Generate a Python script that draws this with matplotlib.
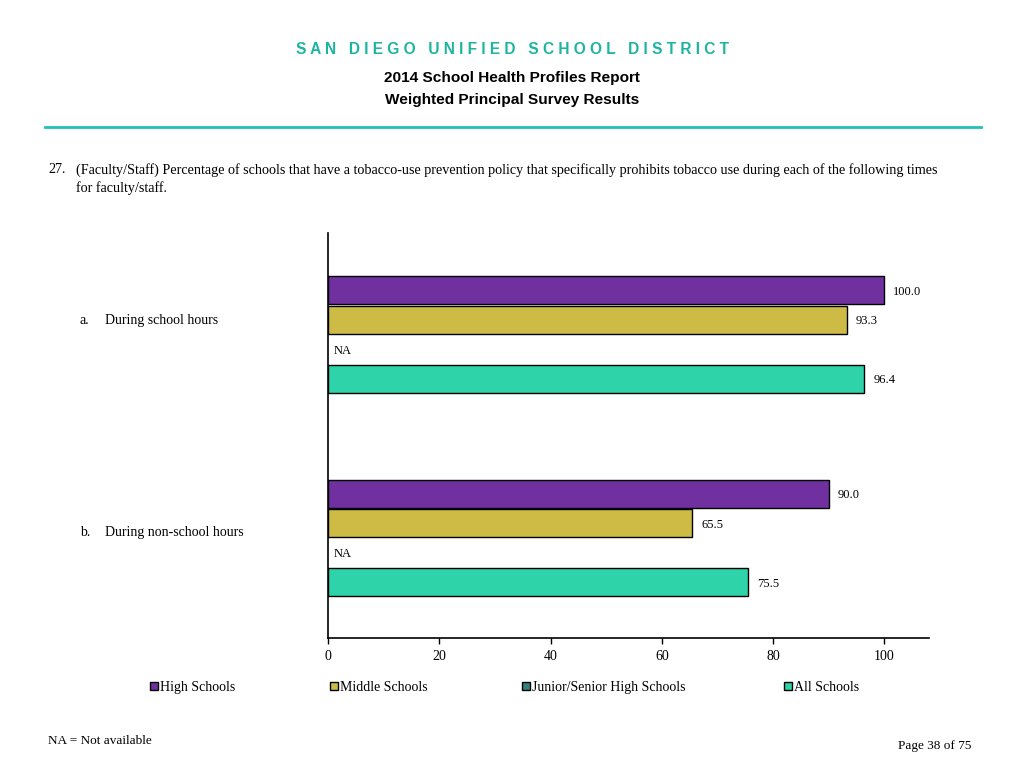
import numpy as np
import matplotlib
matplotlib.use("Agg")
import matplotlib.pyplot as plt
from matplotlib.patches import Rectangle

# data
items = ["During school hours", "During non-school hours"]
item_letters = ["a.", "b."]
series = ["High Schools", "Middle Schools", "Junior/Senior High Schools", "All Schools"]
high = [100.0, 90.0]
middle = [93.3, 65.5]
junior = [None, None]  # NA
all_schools = [96.4, 75.5]
xticks = [0, 20, 40, 60, 80, 100]

colors = ["#7030A0", "#CEBB46", "#2F8080", "#2ED3A9"]
teal = "#1DB59F"
serif = "Liberation Serif"
sans = "Liberation Sans"

fig = plt.figure(figsize=(10.24, 7.68), dpi=100)

# header
title = "   ".join(" ".join(w) for w in "SAN DIEGO UNIFIED SCHOOL DISTRICT".split())
fig.text(0.5, 1 - 50 / 768, title, ha="center", va="center", color=teal,
         fontsize=11.2, fontweight="bold", family=sans)
fig.text(0.5, 1 - 78 / 768, "2014 School Health Profiles Report", ha="center",
         va="center", fontsize=11.1, fontweight="bold", family=sans)
fig.text(0.5, 1 - 100 / 768, "Weighted Principal Survey Results", ha="center",
         va="center", fontsize=11.1, fontweight="bold", family=sans)
fig.add_artist(plt.Line2D([45 / 1024, 981 / 1024], [1 - 127 / 768] * 2,
                          color="#22C1B3", lw=2))

# question
fig.text(48 / 1024, 1 - 168 / 768, "27.", ha="left", va="center_baseline", fontsize=10.2, family=serif)
fig.text(76 / 1024, 1 - 168 / 768,
         "(Faculty/Staff) Percentage of schools that have a tobacco-use prevention policy that "
         "specifically prohibits tobacco use during each of the following times",
         ha="left", va="center_baseline", fontsize=10.2, family=serif)
fig.text(76 / 1024, 1 - 187 / 768, "for faculty/staff.", ha="left", va="center_baseline",
         fontsize=10.2, family=serif)

ax = fig.add_axes([328 / 1024, 130 / 768, 601 / 1024, 405 / 768])
pitch = 0.145
height = 0.1376
offsets = np.array([-1.5, -0.5, 0.5, 1.5]) * pitch
groups = np.arange(len(items))

for k, vals in enumerate([high, middle, junior, all_schools]):
    for g, v in zip(groups, vals):
        y = g + offsets[k]
        if v is None:
            ax.text(1, y, "NA", ha="left", va="center_baseline", fontsize=9, family=serif)
            continue
        ax.barh(y, v, height=height, color=colors[k], edgecolor="black", linewidth=1)
        ax.text(v + 1.6, y, f"{v:.1f}", ha="left", va="center_baseline", fontsize=9, family=serif)

ax.set_xlim(0, 108)
ax.set_ylim(1.491, -0.499)
ax.set_xticks(xticks)
ax.set_xticklabels([str(t) for t in xticks], family=serif, fontsize=10)
ax.set_yticks([])
ax.tick_params(axis="x", length=4, width=1, pad=5)
for s in ["top", "right"]:
    ax.spines[s].set_visible(False)
ax.spines["left"].set_linewidth(1.2)
ax.spines["bottom"].set_linewidth(1.2)

# item labels
label_y = [319, 531]
for letter, name, yp in zip(item_letters, items, label_y):
    fig.text(80 / 1024, 1 - yp / 768, letter, ha="left", va="center_baseline", fontsize=10, family=serif)
    fig.text(105 / 1024, 1 - yp / 768, name, ha="left", va="center_baseline", fontsize=10, family=serif)

# legend
leg_x = [150, 330, 522, 784]
for name, c, xp in zip(series, colors, leg_x):
    fig.add_artist(Rectangle((xp / 1024, 1 - 690 / 768), 8 / 1024, 8 / 768,
                             facecolor=c, edgecolor="black", lw=1, transform=fig.transFigure))
    fig.text((xp + 10) / 1024, 1 - 686 / 768, name, ha="left", va="center_baseline",
             fontsize=10, family=serif)

# footer
fig.text(48 / 1024, 1 - 739 / 768, "NA = Not available", ha="left", va="center_baseline",
         fontsize=9.5, family=serif)
fig.text(971 / 1024, 1 - 744 / 768, "Page 38 of 75", ha="right", va="center_baseline",
         fontsize=9.5, family=serif)

fig.savefig("out.png", dpi=100)
